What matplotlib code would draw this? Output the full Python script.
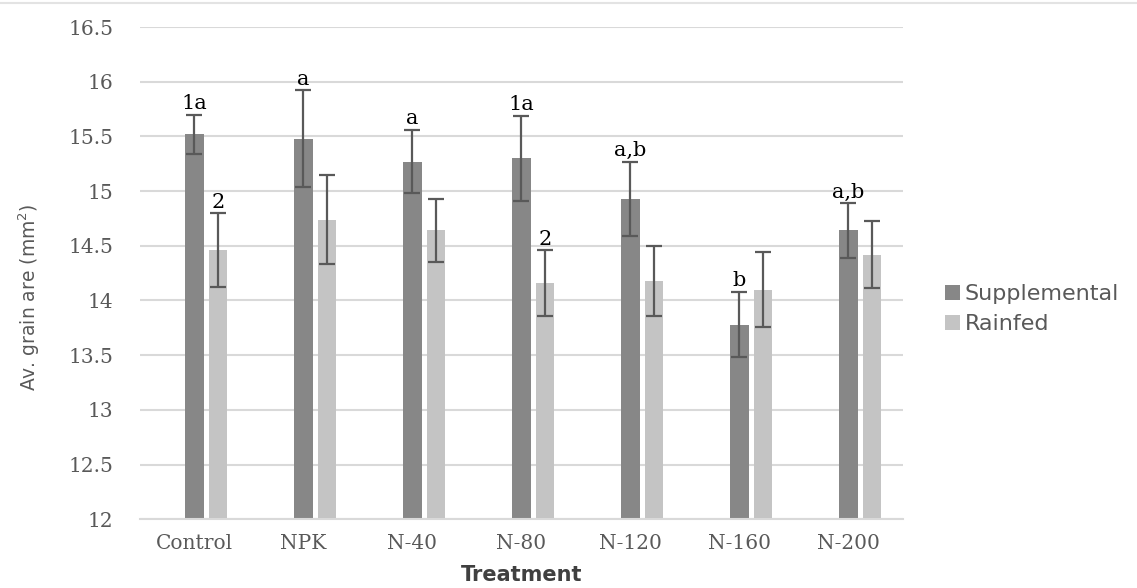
import matplotlib.pyplot as plt
from matplotlib.lines import Line2D
import numpy as np

treatments = ['Control', 'NPK', 'N-40', 'N-80', 'N-120', 'N-160', 'N-200']
supplemental = [15.52, 15.48, 15.27, 15.30, 14.93, 13.78, 14.64]
supp_err = [0.18, 0.44, 0.29, 0.39, 0.34, 0.30, 0.25]
rainfed = [14.46, 14.74, 14.64, 14.16, 14.18, 14.10, 14.42]
rain_err = [0.34, 0.41, 0.29, 0.30, 0.32, 0.34, 0.31]
supp_letters = ['1a', 'a', 'a', '1a', 'a,b', 'b', 'a,b']
rain_letters = ['2', '', '', '2', '', '', '']

fig = plt.figure(figsize=(11.37, 5.88), dpi=100)
ax = fig.add_axes([0.1231, 0.117, 0.671, 0.837])
fig.add_artist(Line2D([0, 1], [0.995, 0.995], transform=fig.transFigure,
                      color='#e3e3e3', linewidth=1.5))

x = np.arange(len(treatments))
w = 0.17
off = 0.215
ecol = '#595959'
ax.bar(x, supplemental, w, color='#878787', label='Supplemental', zorder=2)
ax.bar(x + off, rainfed, w, color='#c4c4c4', label='Rainfed', zorder=2)
ax.errorbar(x, supplemental, yerr=supp_err, fmt='none', ecolor=ecol,
            elinewidth=1.6, capsize=5.5, capthick=1.6, zorder=3)
ax.errorbar(x + off, rainfed, yerr=rain_err, fmt='none', ecolor=ecol,
            elinewidth=1.6, capsize=5.5, capthick=1.6, zorder=3)

for i in range(len(treatments)):
    if supp_letters[i]:
        ax.annotate(supp_letters[i], (x[i], supplemental[i] + supp_err[i]),
                    xytext=(0, 1), textcoords='offset points', ha='center', va='bottom',
                    family='DejaVu Serif', fontsize=15, color='black')
    if rain_letters[i]:
        ax.annotate(rain_letters[i], (x[i] + off, rainfed[i] + rain_err[i]),
                    xytext=(0, 1), textcoords='offset points', ha='center', va='bottom',
                    family='DejaVu Serif', fontsize=15, color='black')

ax.set_ylim(12, 16.5)
ax.set_xlim(-0.5, len(treatments) - 0.5)
ax.set_yticks(np.arange(12, 16.51, 0.5))
ax.set_yticklabels(['12', '12.5', '13', '13.5', '14', '14.5', '15', '15.5', '16', '16.5'])
ax.set_xticks(x)
ax.set_xticklabels(treatments)
for lab in ax.get_xticklabels() + ax.get_yticklabels():
    lab.set_family('DejaVu Serif')
    lab.set_fontsize(14.5)
    lab.set_color('#595959')
ax.tick_params(axis='y', length=0, pad=19)
ax.tick_params(axis='x', length=0, pad=11)
ax.yaxis.grid(True, color='#d9d9d9', linewidth=1.5, zorder=0)
ax.set_axisbelow(True)
for s in ['top', 'right', 'left']:
    ax.spines[s].set_visible(False)
ax.spines['bottom'].set_color('#d9d9d9')
ax.spines['bottom'].set_linewidth(1.5)

ax.set_ylabel('Av. grain are (mm$^2$)', fontsize=13.5, color='#595959')
ax.yaxis.set_label_coords(-0.128, 0.451)
ax.set_xlabel('Treatment', fontsize=15, color='#404040', fontweight='bold', labelpad=8)

ax.legend(loc='center left', bbox_to_anchor=(0.823, 0.474), bbox_transform=fig.transFigure,
          borderaxespad=0, frameon=False, fontsize=16, labelcolor='#595959',
          handlelength=0.7, handleheight=0.7, handletextpad=0.2, labelspacing=0.45)

fig.savefig('out.png')
